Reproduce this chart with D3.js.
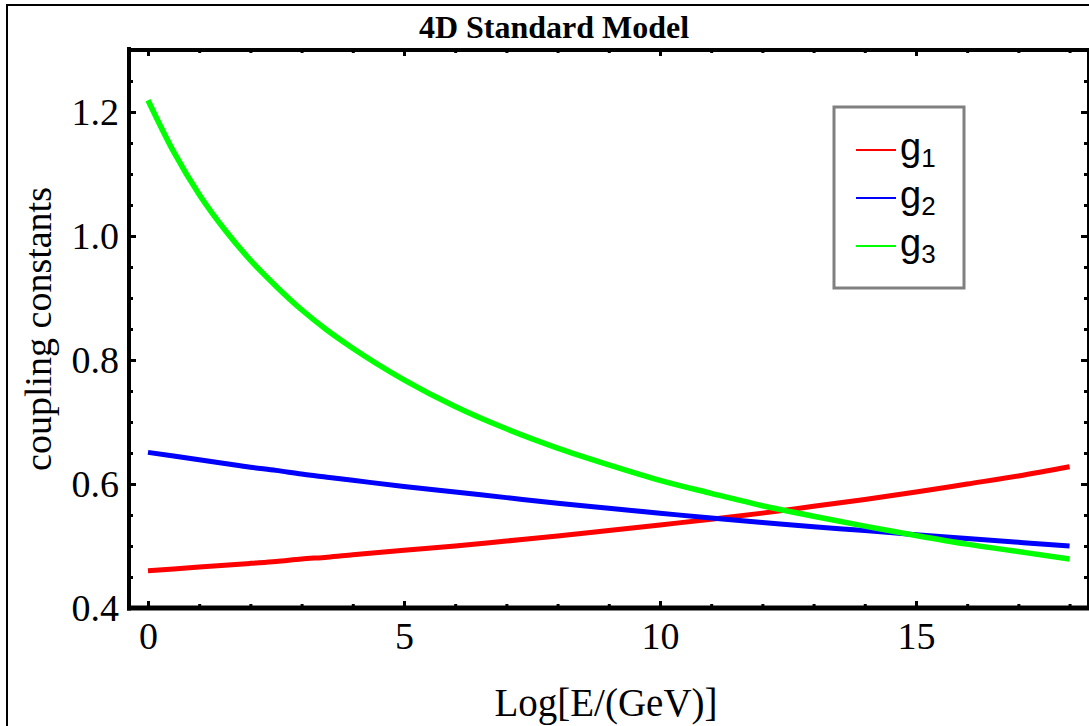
<!DOCTYPE html>
<html>
<head>
<meta charset="utf-8">
<script src="https://cdn.jsdelivr.net/npm/d3@7"></script>
<style>
  html, body { margin: 0; padding: 0; background: #fff; }
  svg { display: block; }
</style>
</head>
<body>
<svg id="chart" width="1089" height="726"></svg>
<script>
// ---- data ----
const title = "4D Standard Model";
const xLabel = "Log[E/(GeV)]";
const yLabel = "coupling constants";
const xTicks = [0, 5, 10, 15];
const yTicks = [0.4, 0.6, 0.8, 1.0, 1.2];
const seriesNames = ["g1", "g2", "g3"];
const seriesColors = ["#ff0000", "#0000ff", "#00ff00"];

const xs = [0, 0.5, 1, 1.5, 2, 2.5, 3, 3.5, 4, 5, 6, 7, 8, 9, 10, 11, 12, 13, 14, 15, 16, 17, 18];
const g1 = [0.460, 0.463, 0.466, 0.469, 0.472, 0.475, 0.479, 0.482, 0.486, 0.493, 0.500, 0.508, 0.516, 0.525, 0.534, 0.543, 0.553, 0.564, 0.575, 0.587, 0.600, 0.613, 0.628];
const g2 = [0.651, 0.645, 0.639, 0.633, 0.627, 0.622, 0.616, 0.611, 0.606, 0.596, 0.587, 0.578, 0.569, 0.561, 0.553, 0.545, 0.538, 0.531, 0.525, 0.518, 0.512, 0.506, 0.500];
const g3 = [1.219, 1.136, 1.067, 1.010, 0.961, 0.919, 0.881, 0.848, 0.819, 0.768, 0.725, 0.689, 0.658, 0.631, 0.606, 0.585, 0.565, 0.548, 0.532, 0.517, 0.503, 0.491, 0.479];

// ---- layout ----
const svg = d3.select("#chart");
const L = 129, T = 49, R = 1088, B = 608;
const x = d3.scaleLinear().domain([-0.371, 18.36]).range([L, R]);
const y = d3.scaleLinear().domain([0.4, 1.3016]).range([B, T]);
const serif = "'Liberation Serif', 'Times New Roman', serif";
const sans = "'Liberation Sans', Arial, sans-serif";

// outer border
svg.append("rect").attr("x", 7).attr("y", 5).attr("width", 1100).attr("height", 740)
  .attr("fill", "none").attr("stroke", "#000").attr("stroke-width", 2);

// title
svg.append("text").attr("x", 554).attr("y", 38).attr("text-anchor", "middle")
  .attr("font-family", serif).attr("font-size", 32).attr("font-weight", "bold")
  .attr("fill", "#000").text(title);

// clip
svg.append("defs").append("clipPath").attr("id", "clip")
  .append("rect").attr("x", L).attr("y", T).attr("width", R - L).attr("height", B - T);

// curves
const data = [g1, g2, g3];
const line = d3.line().x(d => x(d[0])).y(d => y(d[1])).curve(d3.curveMonotoneX);
const plot = svg.append("g").attr("clip-path", "url(#clip)");
data.forEach((vals, i) => {
  plot.append("path").datum(xs.map((v, j) => [v, vals[j]]))
    .attr("d", line).attr("fill", "none").attr("stroke", seriesColors[i])
    .attr("stroke-width", i === 2 ? 5.5 : 5).attr("stroke-linejoin", "round").attr("stroke-linecap", "butt");
});

// axes with minor ticks (frame style)
const xMinor = d3.range(0, 19, 1).filter(v => xTicks.indexOf(v) < 0);
const yMinor = d3.range(0.45, 1.30, 0.05).map(v => +v.toFixed(2)).filter(v => !yTicks.some(t => Math.abs(t - v) < 1e-6));

function tickAxis(axisGen, transform) {
  const g = svg.append("g").attr("transform", transform).call(axisGen);
  g.select(".domain").remove();
  g.selectAll(".tick line").attr("stroke", "#000").attr("stroke-width", 3);
  return g;
}
// bottom major
const gb = tickAxis(d3.axisBottom(x).tickValues(xTicks).tickSize(-7).tickPadding(14).tickFormat(d3.format("d")), `translate(0,${B})`);
gb.selectAll("text").attr("font-family", serif).attr("font-size", 38).attr("fill", "#000").attr("dy", "0.71em").attr("y", 14);
tickAxis(d3.axisBottom(x).tickValues(xMinor).tickSize(-4).tickFormat(""), `translate(0,${B})`);
// top
tickAxis(d3.axisTop(x).tickValues(xTicks).tickSize(-7).tickFormat(""), `translate(0,${T})`);
tickAxis(d3.axisTop(x).tickValues(xMinor).tickSize(-4).tickFormat(""), `translate(0,${T})`);
// left
const gl = tickAxis(d3.axisLeft(y).tickValues(yTicks).tickSize(-7).tickPadding(10).tickFormat(d3.format(".1f")), `translate(${L},0)`);
gl.selectAll("text").attr("font-family", serif).attr("font-size", 38).attr("fill", "#000").attr("x", -10);
tickAxis(d3.axisLeft(y).tickValues(yMinor).tickSize(-4).tickFormat(""), `translate(${L},0)`);
// right
tickAxis(d3.axisRight(y).tickValues(yTicks).tickSize(-7).tickFormat(""), `translate(${R},0)`);
tickAxis(d3.axisRight(y).tickValues(yMinor).tickSize(-4).tickFormat(""), `translate(${R},0)`);

// frame
svg.append("line").attr("x1", L).attr("x2", L).attr("y1", T - 2).attr("y2", B + 2.5).attr("stroke", "#000").attr("stroke-width", 4);
svg.append("line").attr("x1", L - 2).attr("x2", 1089).attr("y1", T + 1).attr("y2", T + 1).attr("stroke", "#000").attr("stroke-width", 4);
svg.append("line").attr("x1", L - 2).attr("x2", 1089).attr("y1", B).attr("y2", B).attr("stroke", "#000").attr("stroke-width", 5);
svg.append("line").attr("x1", R).attr("x2", R).attr("y1", T).attr("y2", B).attr("stroke", "#000").attr("stroke-width", 2);

// axis labels
svg.append("text").attr("x", 606).attr("y", 716).attr("text-anchor", "middle")
  .attr("font-family", serif).attr("font-size", 39).attr("fill", "#000").text(xLabel);
svg.append("text").attr("transform", "translate(51,329) rotate(-90)").attr("text-anchor", "middle")
  .attr("font-family", serif).attr("font-size", 38).attr("fill", "#000").text(yLabel);

// legend
const lg = svg.append("g");
lg.append("rect").attr("x", 834).attr("y", 107).attr("width", 130).attr("height", 181)
  .attr("fill", "#fff").attr("stroke", "#808080").attr("stroke-width", 3);
const legendY = [150, 198, 246];
seriesNames.forEach((name, i) => {
  lg.append("line").attr("x1", 856).attr("x2", 896).attr("y1", legendY[i]).attr("y2", legendY[i])
    .attr("stroke", seriesColors[i]).attr("stroke-width", 1.8);
  const t = lg.append("text").attr("x", 900).attr("y", legendY[i] + 10)
    .attr("font-family", sans).attr("font-size", 38).attr("fill", "#000");
  t.append("tspan").text(name.charAt(0));
  t.append("tspan").attr("font-size", 26).attr("dy", 7).text(name.slice(1));
});
</script>
</body>
</html>
